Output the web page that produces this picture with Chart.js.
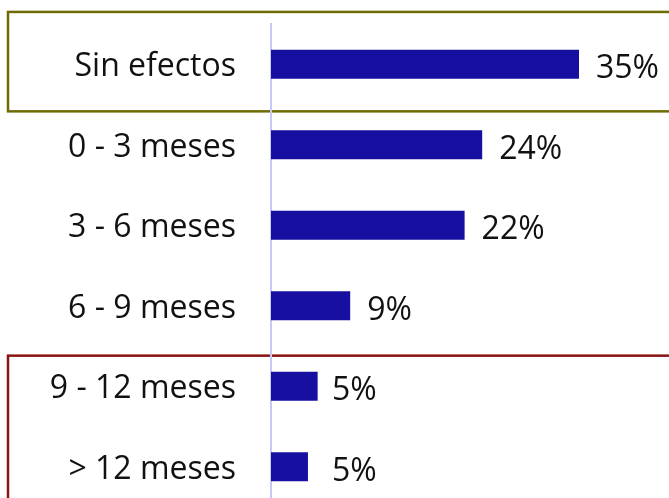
<!DOCTYPE html>
<html>
<head>
<meta charset="utf-8">
<script src="https://cdn.jsdelivr.net/npm/chart.js@4/dist/chart.umd.min.js"></script>
<style>
  html, body { margin: 0; padding: 0; background: #fff; overflow: hidden; }
  #wrap { width: 669px; height: 510px; position: relative; }
</style>
</head>
<body>
<div id="wrap"><canvas id="chart"></canvas></div>
<script>
// Datos
const categorias = ['Sin efectos', '0 - 3 meses', '3 - 6 meses', '6 - 9 meses', '9 - 12 meses', '> 12 meses'];
const porcentajes = [35, 24, 22, 9, 5.3, 4.2];
const textos = ['35%', '24%', '22%', '9%', '5%', '5%'];
const ejeMax = 45;

const fuente = '"Open Sans", sans-serif';

// Recuadros alrededor de la primera fila y de las dos últimas
const recuadros = {
    id: 'recuadros',
    beforeDraw(chart) {
        const ctx = chart.ctx;
        const y = chart.scales.y;
        const banda = y.getPixelForValue(1) - y.getPixelForValue(0);
        ctx.save();
        ctx.lineWidth = 2.5;
        // verde oliva: "Sin efectos"
        ctx.strokeStyle = '#6c6c00';
        let top = y.getPixelForValue(0) - banda * 0.65;
        let bottom = y.getPixelForValue(0) + banda * 0.585;
        ctx.strokeRect(8, top, chart.width + 20, bottom - top);
        // rojo oscuro: 9 - 12 y > 12 meses
        ctx.strokeStyle = '#8a1414';
        top = y.getPixelForValue(4) - banda * 0.38;
        ctx.strokeRect(8, top, chart.width + 20, chart.height);
        ctx.restore();
    }
};

// Etiquetas de valor a la derecha de cada barra
const etiquetas = {
    id: 'etiquetas',
    afterDatasetsDraw(chart) {
        const ctx = chart.ctx;
        const x = chart.scales.x;
        const y = chart.scales.y;
        ctx.save();
        ctx.font = '32px ' + fuente;
        ctx.fillStyle = '#111';
        ctx.textAlign = 'left';
        ctx.textBaseline = 'middle';
        textos.forEach((t, i) => {
            ctx.fillText(t, x.getPixelForValue(parseFloat(t)) + 17, y.getPixelForValue(i) + 5);
        });
        ctx.restore();
    }
};

new Chart(document.getElementById('chart'), {
    type: 'bar',
    data: {
        labels: categorias,
        datasets: [{
            data: porcentajes,
            backgroundColor: '#160f9f',
            borderWidth: 0,
            categoryPercentage: 1,
            barPercentage: 0.36
        }]
    },
    options: {
        indexAxis: 'y',
        responsive: true,
        maintainAspectRatio: false,
        animation: false,
        layout: { autoPadding: false, padding: { top: 24, right: 2, bottom: 3, left: 0 } },
        plugins: {
            legend: { display: false },
            tooltip: { enabled: false }
        },
        scales: {
            x: {
                display: false,
                min: 0,
                max: ejeMax
            },
            y: {
                afterFit(scale) {
                    scale.width = 271;
                    scale.paddingTop = 0;
                    scale.paddingBottom = 0;
                },
                grid: { display: false, drawTicks: false },
                border: { display: true, color: '#c8c8f8', width: 2 },
                ticks: {
                    padding: 35,
                    labelOffset: 3,
                    color: '#111',
                    font: { family: fuente, size: 32 }
                }
            }
        }
    },
    plugins: [recuadros, etiquetas]
});
</script>
</body>
</html>
